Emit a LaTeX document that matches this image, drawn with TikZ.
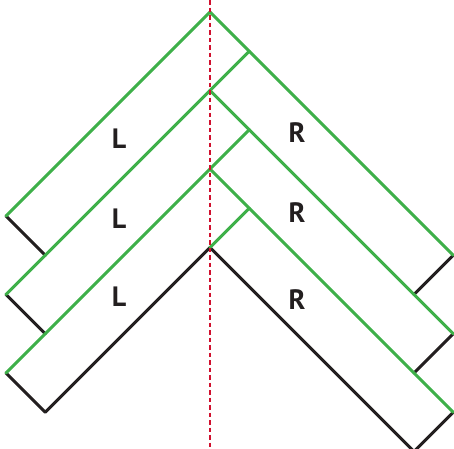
\documentclass[tikz,border=0pt]{standalone}
\usepackage{fontspec}
\setmainfont{PT Sans}
\definecolor{plankgreen}{RGB}{62,176,73}
\definecolor{plankblack}{RGB}{35,31,32}
\definecolor{axisred}{RGB}{208,16,46}
\tikzset{
  greenedge/.style={draw=plankgreen,line width=2.9pt,line cap=round,line join=round},
  blackedge/.style={draw=plankblack,line width=2.9pt,line cap=round,line join=round},
  axisline/.style={draw=axisred,line width=1.2pt,dash pattern=on 4.5pt off 3pt},
  lbl/.style={font=\fontsize{28}{30}\selectfont\bfseries,text=plankblack,inner sep=0pt}
}
\begin{document}
\begin{tikzpicture}[x=1pt,y=-1pt]
\useasboundingbox (0,0) rectangle (454,448);
% corners of the planks
\foreach \k in {0,1,2}{
  \pgfmathsetmacro{\ay}{12+78.5*\k}
  \coordinate (a\k) at (210,\ay);
  \coordinate (B\k) at (6,\ay+204);
  \coordinate (C\k) at (45.25,\ay+243.25);
  \coordinate (D\k) at (249.25,\ay+39.25);
  \coordinate (E\k) at (453.25,\ay+243.25);
  \coordinate (F\k) at (414,\ay+282.5);
}
\coordinate (a3) at (210,247.5);
\coordinate (axtop) at (210,0);
\coordinate (axbot) at (210,448);
% black edges
\draw[blackedge] (B0) -- (C0);
\draw[blackedge] (B1) -- (C1);
\draw[blackedge] (B2) -- (C2) -- (a3) -- (F2);
\draw[blackedge] (E0) -- (F0);
\draw[blackedge] (E1) -- (F1);
\draw[blackedge] (E2) -- (F2);
% green edges
\draw[greenedge] (B0) -- (a0) -- (E0);
\draw[greenedge] (B1) -- (D0);
\draw[greenedge] (a1) -- (E1);
\draw[greenedge] (B2) -- (D1);
\draw[greenedge] (a2) -- (E2);
\draw[greenedge] (a3) -- (D2);
% centre line
\draw[axisline] (axtop) -- (axbot);
% labels
\node[lbl] (l1) at (119,139) {L};
\node[lbl] (l2) at (119,219) {L};
\node[lbl] (l3) at (119,297) {L};
\node[lbl] (r1) at (297,133) {R};
\node[lbl] (r2) at (297,213) {R};
\node[lbl] (r3) at (297,300) {R};
\end{tikzpicture}
\end{document}
